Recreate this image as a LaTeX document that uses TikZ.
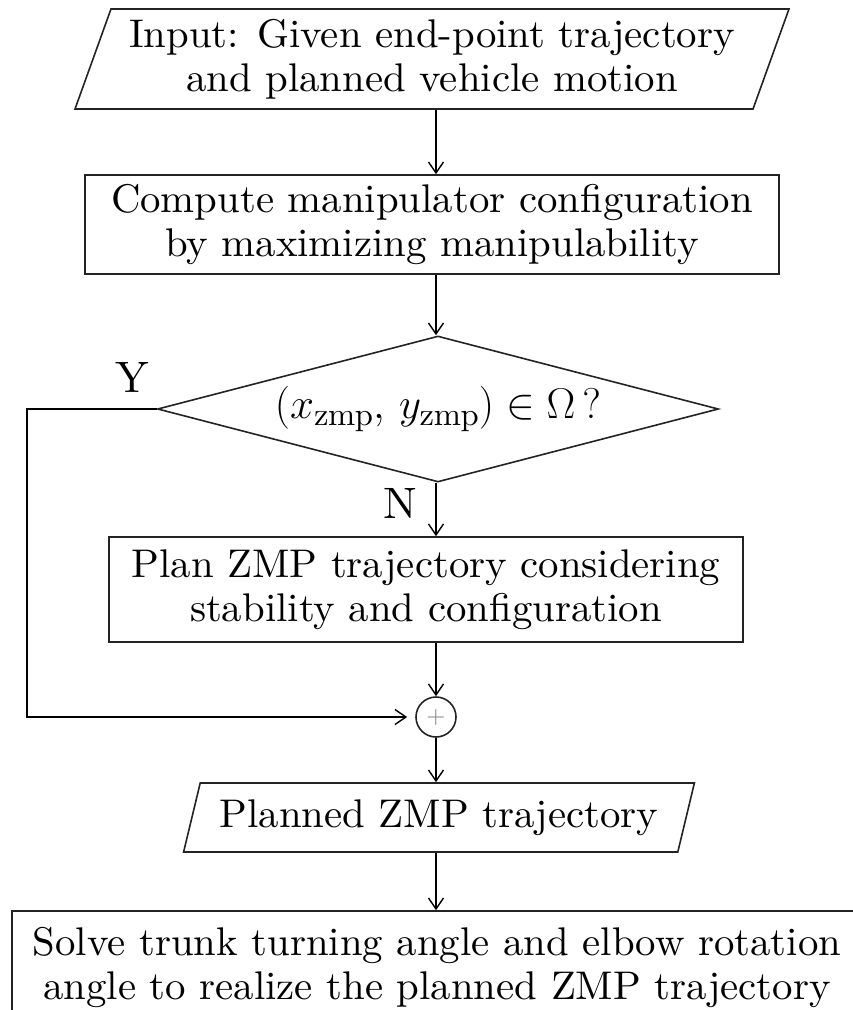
\RequirePackage{fix-cm}
\documentclass[tikz,border=0pt]{standalone}
\usepackage{fontspec}
\setmainfont{lmroman10-regular.otf}[FakeStretch=1.02]
\usetikzlibrary{arrows.meta, positioning, shapes.geometric, calc}
\definecolor{linegray}{RGB}{35,35,35}
\definecolor{plusgray}{RGB}{130,130,130}
\DeclareMathSizes{43}{43}{32}{24}
\newcommand{\boxfont}{\fontsize{40}{44}\selectfont}
\tikzset{
  bxR/.style={draw=linegray, rectangle, minimum width=#1, align=center,
              font=\boxfont, line width=1.6pt, inner sep=0pt},
  bxIO/.style={draw=linegray, trapezium, trapezium left angle=67,
               trapezium right angle=113, trapezium stretches=true,
               minimum width=#1, align=center, font=\boxfont,
               line width=1.6pt, inner sep=0pt},
  bxD/.style={draw=linegray, diamond, aspect=3.84, minimum width=#1,
              align=center, font=\fontsize{43}{44}\selectfont,
              line width=1.6pt, inner sep=0pt},
  arr/.style={-{Straight Barb[length=11pt, width=15pt]}, line width=1.4pt},
  lbl/.style={font=\fontsize{44}{44}\selectfont, inner sep=0pt},
}

\begin{document}
\begin{tikzpicture}[x=1pt, y=-1pt]
  \useasboundingbox (0,0) rectangle (853,1010);

  % ── input ──────────────────────────────────────────────
  \node[bxIO=716pt, minimum height=100pt] (in) at (432,59)
    {Input: Given end-point trajectory\\and planned vehicle motion};

  % ── manipulator configuration ─────────────────────────
  \node[bxR=694pt, minimum height=99pt] (comp) at (432,224.5)
    {Compute manipulator configuration\\by maximizing manipulability};

  % ── stability check ───────────────────────────────────
  \node[bxD=561pt, minimum height=146pt] (chk) at (438,409)
    {$\left(x_{\mathrm{zmp}},\,y_{\mathrm{zmp}}\right)\in\Omega\,?$};

  % ── ZMP planning ──────────────────────────────────────
  \node[bxR=634pt, minimum height=105pt] (plan) at (426,589.5)
    {Plan ZMP trajectory considering\\stability and configuration};

  % ── junction ──────────────────────────────────────────
  \node[circle, draw=linegray, line width=1.6pt, minimum size=40pt,
        inner sep=0pt, text=plusgray, font=\fontsize{24}{24}\selectfont]
    (sum) at (436,717) {+};

  % ── planned ZMP trajectory ────────────────────────────
  \node[bxIO=513pt, minimum height=69pt] (zmp) at (439,817.5)
    {Planned ZMP trajectory};

  % ── joint angles ──────────────────────────────────────
  \node[bxR=850pt, minimum height=114pt] (solve) at (437,968)
    {Solve trunk turning angle and elbow rotation\\angle to realize the planned ZMP trajectory};

  % ── connectors ────────────────────────────────────────
  \coordinate (yleft) at (27,0);
  \draw[arr] (in.south -| sum) -- (comp.north -| sum);
  \draw[arr] (comp.south -| sum) -- (chk.north -| sum);
  \draw[arr] (chk.south -| sum) -- (plan.north -| sum);
  \draw[arr] (plan.south -| sum) -- (sum.north);
  \draw[arr] (sum.south) -- (zmp.north -| sum);
  \draw[arr] (zmp.south -| sum) -- (solve.north -| sum);
  \draw[arr, shorten >=8pt] (chk.west) -- (chk.west -| yleft) |- (sum.west);

  \node[lbl] (ylab) at (132,377) {Y};
  \node[lbl] (nlab) at (400,503) {N};
\end{tikzpicture}
\end{document}
